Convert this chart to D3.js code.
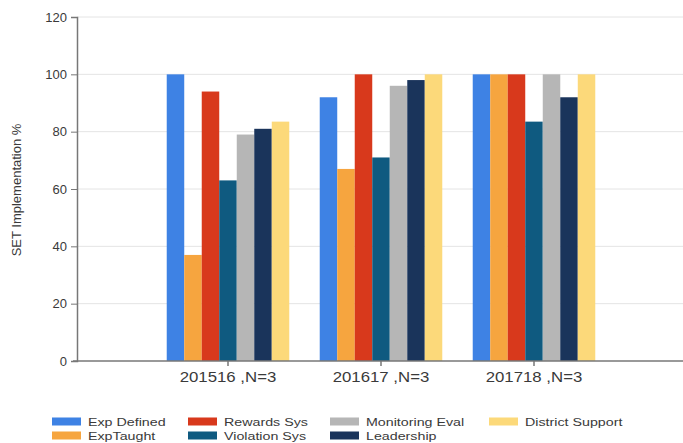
<!DOCTYPE html>
<html>
<head>
<meta charset="utf-8">
<script src="https://cdn.jsdelivr.net/npm/d3@7"></script>
<style>
  html, body { margin: 0; padding: 0; background: #fff; }
  svg { display: block; font-family: "Liberation Sans", Arial, sans-serif; }
</style>
</head>
<body>
<svg id="chart" width="683" height="443"></svg>
<script>
// Survey years (x categories)
const categories = ["201516 ,N=3", "201617 ,N=3", "201718 ,N=3"];

// Feature names, in bar order within each group
const seriesNames = ["Exp Defined", "ExpTaught", "Rewards Sys", "Violation Sys",
                     "Monitoring Eval", "Leadership", "District Support"];
const seriesColors = ["#3e82e4", "#f6a53f", "#d8391c", "#0f5a80",
                      "#b6b6b6", "#1a345b", "#fcd97a"];

// Implementation % per feature, one value per year
const expDefined      = [100, 92, 100];
const expTaught       = [37, 67, 100];
const rewardsSys      = [94, 100, 100];
const violationSys    = [63, 71, 83.5];
const monitoringEval  = [79, 96, 100];
const leadership      = [81, 98, 92];
const districtSupport = [83.5, 100, 100];

const yTicks = [0, 20, 40, 60, 80, 100, 120];

const seriesValues = [expDefined, expTaught, rewardsSys, violationSys,
                      monitoringEval, leadership, districtSupport];

const svg = d3.select("#chart");
const plot = { left: 77, right: 683, top: 17, bottom: 361 };
const textColor = "#3a3a3a";

const x0 = d3.scaleBand()
  .domain(categories)
  .range([151.5, 610.5])
  .paddingInner(0)
  .paddingOuter(0);

const x1 = d3.scaleBand()
  .domain(seriesNames)
  .range([0, x0.bandwidth()])
  .paddingInner(0)
  .paddingOuter(0.87);

const y = d3.scaleLinear().domain([0, 120]).range([plot.bottom, plot.top]);

// Horizontal gridlines
svg.append("g")
  .selectAll("line")
  .data(yTicks.filter(t => t > 0))
  .join("line")
  .attr("x1", plot.left).attr("x2", plot.right)
  .attr("y1", d => y(d)).attr("y2", d => y(d))
  .attr("stroke", "#e4e4e4").attr("stroke-width", 1);

// Bars
const groups = svg.append("g")
  .selectAll("g")
  .data(categories)
  .join("g")
  .attr("transform", d => `translate(${x0(d)},0)`);

groups.selectAll("rect")
  .data((c, ci) => seriesNames.map((s, si) => ({ s, si, v: seriesValues[si][ci] })))
  .join("rect")
  .attr("x", d => x1(d.s))
  .attr("width", x1.bandwidth())
  .attr("y", d => y(d.v))
  .attr("height", d => y(0) - y(d.v))
  .attr("fill", d => seriesColors[d.si]);

// Y axis
const yAxis = svg.append("g")
  .attr("transform", `translate(${plot.left},0)`)
  .call(d3.axisLeft(y).tickValues(yTicks).tickSize(6).tickPadding(4));
yAxis.select(".domain").attr("stroke", "#777").attr("stroke-width", 1.5);
yAxis.selectAll(".tick line").attr("stroke", "#777");
yAxis.selectAll(".tick text").attr("fill", textColor).style("font-size", "13px");

// X axis
const xAxis = svg.append("g")
  .attr("transform", `translate(0,${plot.bottom})`);
xAxis.append("line")
  .attr("x1", plot.left - 4).attr("x2", plot.right)
  .attr("stroke", "#777").attr("stroke-width", 1.5);
xAxis.selectAll(".tk")
  .data(categories)
  .join("line")
  .attr("class", "tk")
  .attr("x1", d => x0(d) + x0.bandwidth() / 2)
  .attr("x2", d => x0(d) + x0.bandwidth() / 2)
  .attr("y1", 0).attr("y2", 5)
  .attr("stroke", "#777").attr("stroke-width", 1.5);
xAxis.selectAll(".lbl")
  .data(categories)
  .join("text")
  .attr("class", "lbl")
  .attr("transform", d => `translate(${x0(d) + x0.bandwidth() / 2},21) scale(1.2,1)`)
  .attr("text-anchor", "middle")
  .attr("fill", textColor)
  .style("font-size", "14px")
  .text(d => d);

// Y axis title
svg.append("text")
  .attr("transform", "translate(21,190) rotate(-90)")
  .attr("text-anchor", "middle")
  .attr("fill", textColor)
  .style("font-size", "13px")
  .text("SET Implementation %");

// Legend: 4 columns, filled column-wise in two rows
const legendCols = [52, 188, 330, 489];
const legendRows = [422, 436];
const legend = svg.append("g")
  .selectAll("g")
  .data(seriesNames)
  .join("g")
  .attr("transform", (d, i) => `translate(${legendCols[Math.floor(i / 2)]},${legendRows[i % 2]})`);
legend.append("rect")
  .attr("x", 0).attr("y", -4.5)
  .attr("width", 29).attr("height", 8)
  .attr("fill", (d, i) => seriesColors[i]);
legend.append("text")
  .attr("transform", "translate(36,4) scale(1.24,1)")
  .attr("fill", textColor)
  .style("font-size", "11.5px")
  .text(d => d);
</script>
</body>
</html>
